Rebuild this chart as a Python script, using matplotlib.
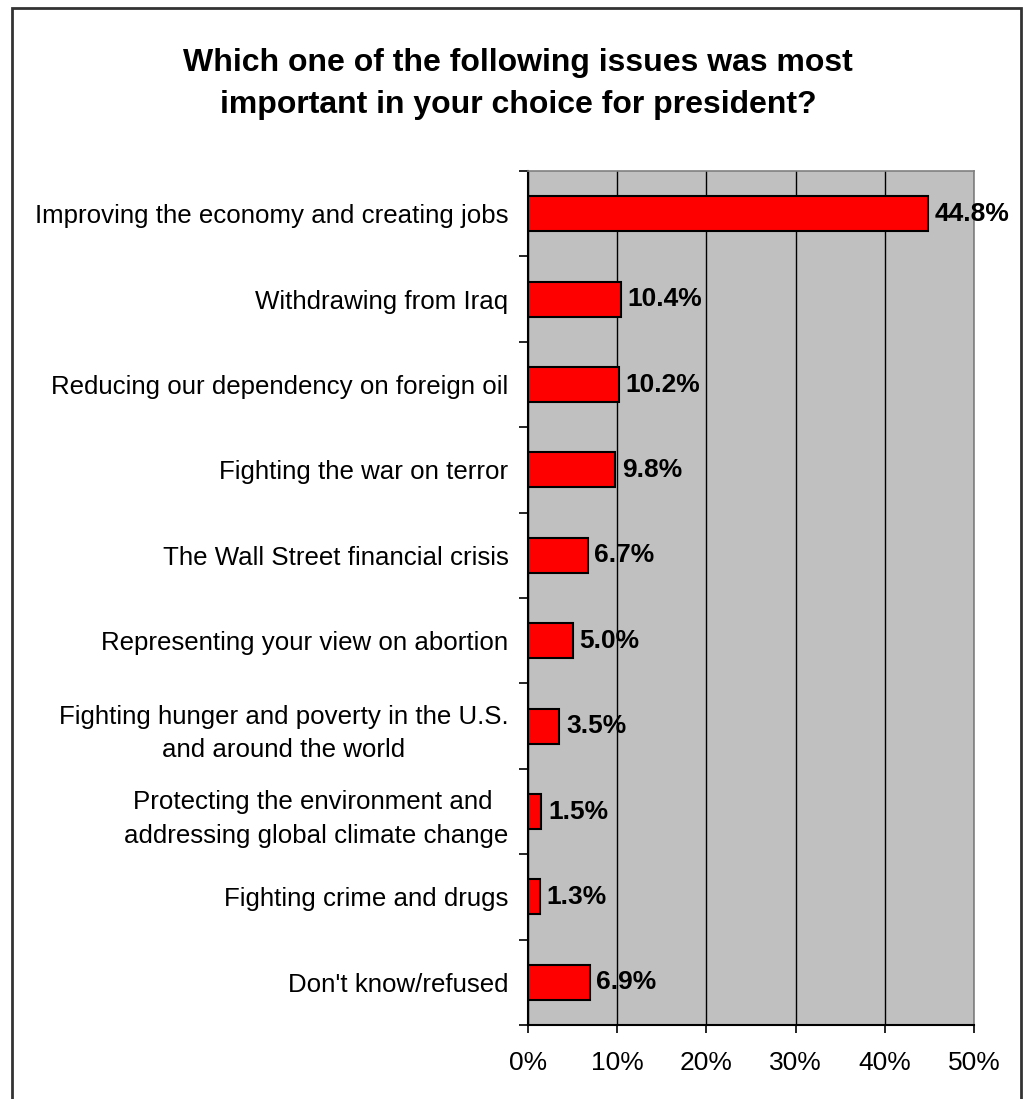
import matplotlib.pyplot as plt
from matplotlib.patches import Rectangle
import numpy as np

plt.rcParams['font.family'] = ['Liberation Sans', 'DejaVu Sans']

issues = [
    "Improving the economy and creating jobs",
    "Withdrawing from Iraq",
    "Reducing our dependency on foreign oil",
    "Fighting the war on terror",
    "The Wall Street financial crisis",
    "Representing your view on abortion",
    "Fighting hunger and poverty in the U.S.\nand around the world",
    "Protecting the environment and \naddressing global climate change",
    "Fighting crime and drugs",
    "Don't know/refused",
]
shares = [44.8, 10.4, 10.2, 9.8, 6.7, 5.0, 3.5, 1.5, 1.3, 6.9]
x_ticks = [0, 10, 20, 30, 40, 50]

fig = plt.figure(figsize=(10.28, 10.99), dpi=100)
ax = fig.add_axes([0.5136, 0.0673, 0.4339, 0.7771])

n = len(issues)
pos = np.arange(n)
ax.set_facecolor('#C0C0C0')
ax.barh(pos, shares, height=0.41, color='#FF0000', edgecolor='black',
        linewidth=1.5, zorder=3)
ax.set_ylim(n - 0.5, -0.5)
ax.set_xlim(0, 50)

# labels at bar centres, tick marks at the category boundaries
ax.set_yticks(pos)
ax.set_yticklabels(issues, fontsize=18.6, ha='right', multialignment='center',
                   linespacing=1.5)
ax.tick_params(axis='y', which='major', length=0, pad=14)
ax.set_yticks(np.arange(n + 1) - 0.5, minor=True)
ax.tick_params(axis='y', which='minor', length=6.5, width=1.2, direction='out')

ax.set_xticks(x_ticks)
ax.set_xticklabels([f"{t}%" for t in x_ticks], fontsize=19)
ax.tick_params(axis='x', length=6, width=1.2, pad=13)
ax.xaxis.grid(True, color='black', linewidth=1.0, zorder=1)
ax.set_axisbelow(True)

for side in ['top', 'right']:
    ax.spines[side].set_color('#808080')
    ax.spines[side].set_linewidth(1.2)
for side in ['left', 'bottom']:
    ax.spines[side].set_color('black')
    ax.spines[side].set_linewidth(1.5)

for p, v in zip(pos, shares):
    ax.text(v + 0.75, p, f"{v:.1f}%", va='center', ha='left',
            fontsize=19, fontweight='bold', zorder=4)

fig.text(0.504, 0.9235, "Which one of the following issues was most\n"
         "important in your choice for president?",
         ha='center', va='center', fontsize=23, fontweight='bold',
         linespacing=1.49)

# outer frame around the chart
fig.patches.append(Rectangle((12 / 1028, -0.05), 1009 / 1028, 1.05 - 8 / 1099,
                             transform=fig.transFigure, fill=False,
                             edgecolor='#333333', linewidth=2))

fig.savefig('out.png', dpi=100, facecolor='white')
